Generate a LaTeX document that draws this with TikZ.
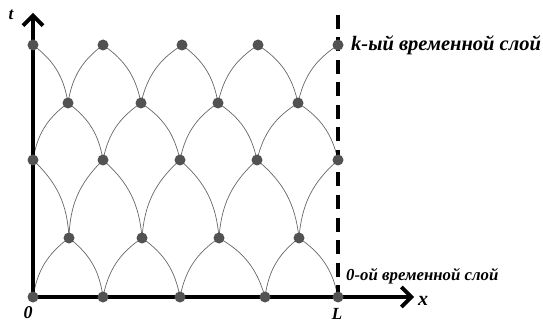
\documentclass[tikz,border=0pt]{standalone}
\usepackage{fontspec}
\setmainfont{Liberation Serif}
\usetikzlibrary{arrows.meta}
\begin{document}
\begin{tikzpicture}[x=1pt,y=-1pt,
  pt/.style={circle,fill=black!68,inner sep=0pt,minimum size=11pt},
  grid/.style={draw=black!60,line width=0.7pt,bend left=22},
  axis/.style={line width=3.8pt,-{Straight Barb[length=10pt,width=20pt]}},
  lbl/.style={font=\bfseries\itshape}]
\useasboundingbox (0,0) rectangle (543,323);
% positions
\foreach \n/\x in {1/33,2/103,3/182,4/258,5/338} \coordinate (a\n) at (\x,45);
\foreach \n/\x in {1/68,2/141,3/218,4/298} \coordinate (b\n) at (\x,103);
\foreach \n/\x in {1/33,2/103,3/180,4/257,5/338} \coordinate (c\n) at (\x,160);
\foreach \n/\x in {1/69,2/142,3/219,4/299} \coordinate (d\n) at (\x,238);
\foreach \n/\x in {1/33,2/103,3/180,4/265,5/338} \coordinate (e\n) at (\x,297);
% grid arcs
\foreach \i [evaluate=\i as \j using int(\i+1)] in {1,...,4} {
  \draw[grid] (a\i) to (b\i);
  \draw[grid] (b\i) to (a\j);
  \draw[grid] (c\i) to (b\i);
  \draw[grid] (b\i) to (c\j);
  \draw[grid] (c\i) to (d\i);
  \draw[grid] (d\i) to (c\j);
  \draw[grid] (e\i) to (d\i);
  \draw[grid] (d\i) to (e\j);
}
% axes
\coordinate (ttip) at (33,13);
\coordinate (xtip) at (414,297);
\coordinate (dtop) at (338,15);
\coordinate (dbot) at (338,305);
\draw[line width=4pt,dash pattern=on 14pt off 8.5pt] (dtop) -- (dbot);
\draw[axis] (e1) -- (ttip);
\draw[axis] (e1) -- (xtip);
% points
\foreach \r/\m in {a/5,b/4,c/5,d/4,e/5} {
  \foreach \n in {1,...,\m} \node[pt] (p\r\n) at (\r\n) {};
}
% labels
\node[lbl,font=\bfseries\itshape\fontsize{17}{17}\selectfont] (tl) at (11,15) {t};
\node[lbl,font=\bfseries\itshape\fontsize{20}{20}\selectfont] (xl) at (423,301) {x};
\node[lbl,font=\bfseries\itshape\fontsize{18}{18}\selectfont] (zl) at (28,313) {0};
\node[lbl,font=\bfseries\itshape\fontsize{17}{17}\selectfont,anchor=base,inner sep=0pt] (ll) at (337,319) {L};
\node[lbl,font=\bfseries\itshape\fontsize{20.5}{20.5}\selectfont,anchor=west,inner sep=0pt] (kl) at (351,45) {k-ый временной слой};
\node[lbl,font=\bfseries\itshape\fontsize{16.8}{16.8}\selectfont,anchor=west,inner sep=0pt] (ol) at (346,276) {0-ой временной слой};
\end{tikzpicture}
\end{document}
